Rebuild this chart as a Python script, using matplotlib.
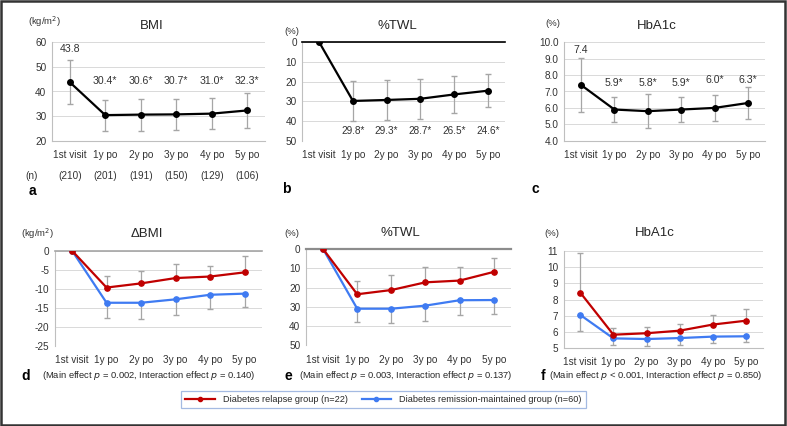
import numpy as np
import matplotlib.pyplot as plt
from matplotlib.patches import Rectangle
from matplotlib.lines import Line2D

plt.rcParams['font.family'] = ['Liberation Sans', 'DejaVu Sans']

categories = ['1st visit', '1y po', '2y po', '3y po', '4y po', '5y po']
n_counts = [210, 201, 191, 150, 129, 106]

# panel a-c : whole cohort
bmi_mean = [43.8, 30.4, 30.6, 30.7, 31.0, 32.3]
bmi_sd = [9.0, 6.3, 6.5, 6.4, 6.2, 7.2]
twl_mean = [0, 29.8, 29.3, 28.7, 26.5, 24.6]
twl_sd = [0, 10.0, 10.3, 10.2, 9.2, 8.4]
hba_mean = [7.4, 5.9, 5.8, 5.9, 6.0, 6.3]
hba_sd = [1.65, 0.78, 1.05, 0.74, 0.8, 0.95]

# panel d-f : relapse vs remission-maintained
dbmi_rel = [0, -9.7, -8.6, -7.2, -6.8, -5.7]
dbmi_rel_sd = [0, 3.1, 3.3, 3.6, 2.7, 4.4]
dbmi_rem = [0, -13.7, -13.7, -12.8, -11.6, -11.3]
dbmi_rem_sd = [0, 4.1, 4.4, 4.0, 3.7, 3.4]
twl_rel = [0, 23.5, 21.3, 17.3, 16.4, 11.9]
twl_rel_sd = [0, 7.1, 7.8, 7.8, 7.2, 7.4]
twl_rem = [0, 31.0, 31.0, 29.4, 26.6, 26.5]
twl_rem_sd = [0, 7.1, 7.6, 7.8, 7.5, 7.4]
hba_rel = [8.43, 5.81, 5.9, 6.06, 6.44, 6.68]
hba_rel_sd = [2.45, 0.4, 0.37, 0.41, 0.57, 0.71]
hba_rem = [7.04, 5.58, 5.54, 5.6, 5.69, 5.71]
hba_rem_sd = [1.02, 0.43, 0.44, 0.43, 0.42, 0.38]

W, H = 787, 426
RED = '#C00000'
BLUE = '#3F7BF2'
ERR = '#A6A6A6'
GRID = '#D9D9D9'
TICK_FS = 7.2

fig = plt.figure(figsize=(W / 100, H / 100), dpi=100)


def px_axes(left, right, top, bottom):
    return fig.add_axes([left / W, 1 - bottom / H, (right - left) / W, (bottom - top) / H])


def ftext(x, y, s, **kw):
    fig.text(x / W, 1 - y / H, s, **kw)


def style(ax, ylim, yticks, fmt='{:g}', base_color='#BFBFBF', base_lw=0.8, base_at='bottom'):
    x = np.arange(len(categories))
    ax.set_xlim(-0.5, len(categories) - 0.5)
    ax.set_ylim(*ylim)
    ax.set_yticks(yticks)
    ax.set_yticklabels([fmt.format(t) for t in yticks], fontsize=TICK_FS, color='#333333')
    ax.set_xticks(x)
    ax.set_xticklabels(categories, fontsize=TICK_FS, color='#333333')
    ax.tick_params(axis='both', length=0)
    ax.tick_params(axis='x', pad=7)
    ax.tick_params(axis='y', pad=4)
    ax.grid(axis='y', color=GRID, lw=0.7)
    ax.set_axisbelow(True)
    for s in ['top', 'right', 'bottom']:
        ax.spines[s].set_visible(False)
    ax.spines['left'].set_color('#BFBFBF')
    ax.spines['left'].set_linewidth(0.8)
    ax.spines[base_at].set_visible(True)
    ax.spines[base_at].set_color(base_color)
    ax.spines[base_at].set_linewidth(base_lw)
    ax.patch.set_alpha(0)


x = np.arange(len(categories))

# ---- a : BMI
ax = px_axes(52, 265, 42.3, 140.7)
style(ax, (20, 60), [20, 30, 40, 50, 60])
ax.errorbar(x, bmi_mean, yerr=bmi_sd, fmt='none', ecolor=ERR, elinewidth=0.9, capsize=2.5, zorder=2)
ax.plot(x, bmi_mean, color='black', lw=1.6, marker='o', ms=4, zorder=3)
for i, v in enumerate(bmi_mean):
    lab = f'{v:.1f}' + ('*' if i > 0 else '')
    ax.text(i, 57.3 if i == 0 else 44.4, lab, ha='center', va='center', fontsize=7.6, color='#333333')
ftext(32, 176, '(n)', fontsize=TICK_FS, color='#333333', ha='center', va='center')
for i, n in enumerate(n_counts):
    xp = 52 + (i + 0.5) * (265 - 52) / 6
    ftext(xp, 176, f'({n})', fontsize=TICK_FS, color='#333333', ha='center', va='center')
ftext(28, 22, '(kg/m$^2$)', fontsize=6.8, color='#333333', ha='left', va='center')
ftext(152, 26, 'BMI', fontsize=9.5, color='#262626', ha='center', va='center')
ftext(32, 191, 'a', fontsize=10, fontweight='bold', ha='center', va='center')

# ---- b : %TWL
ax = px_axes(302.4, 504.6, 42.3, 140.7)
style(ax, (50, 0), [0, 10, 20, 30, 40, 50], base_color='black', base_lw=1.2, base_at='top')
ax.errorbar(x[1:], twl_mean[1:], yerr=twl_sd[1:], fmt='none', ecolor=ERR, elinewidth=0.9, capsize=2.5, zorder=2)
ax.plot(x, twl_mean, color='black', lw=1.6, marker='o', ms=4, zorder=3)
for i, v in enumerate(twl_mean):
    if i > 0:
        ax.text(i, 45.1, f'{v:.1f}*', ha='center', va='center', fontsize=7.2, color='#333333')
ftext(292, 32, '(%)', fontsize=6.8, color='#333333', ha='center', va='center')
ftext(397, 26, '%TWL', fontsize=9.5, color='#262626', ha='center', va='center')
ftext(286, 189, 'b', fontsize=10, fontweight='bold', ha='center', va='center')

# ---- c : HbA1c
ax = px_axes(564.3, 764.7, 42.3, 140.7)
style(ax, (4, 10), [4, 5, 6, 7, 8, 9, 10], fmt='{:.1f}')
ax.errorbar(x, hba_mean, yerr=hba_sd, fmt='none', ecolor=ERR, elinewidth=0.9, capsize=2.5, zorder=2)
ax.plot(x, hba_mean, color='black', lw=1.6, marker='o', ms=4, zorder=3)
for i, v in enumerate(hba_mean):
    if i == 0:
        ax.text(i, 9.53, f'{v:.1f}', ha='center', va='center', fontsize=7.6, color='#333333')
    else:
        ax.text(i, 7.54 if v < 6 else 7.7, f'{v:.1f}*', ha='center', va='center', fontsize=7.6, color='#333333')
ftext(553, 24, '(%)', fontsize=6.8, color='#333333', ha='center', va='center')
ftext(657, 26, 'HbA1c', fontsize=9.5, color='#262626', ha='center', va='center')
ftext(535, 189, 'c', fontsize=10, fontweight='bold', ha='center', va='center')


def two_groups(ax, rel, rel_sd, rem, rem_sd, rel_up_is_plus=True):
    rel_sd = np.array(rel_sd)
    rem_sd = np.array(rem_sd)
    z = np.zeros_like(rel_sd)
    if rel_up_is_plus:
        rel_err = [z, rel_sd]
        rem_err = [rem_sd, z]
    else:
        rel_err = [rel_sd, z]
        rem_err = [z, rem_sd]
    ax.errorbar(x, rel, yerr=rel_err, fmt='none', ecolor=ERR, elinewidth=0.9, capsize=2.5, zorder=2)
    ax.errorbar(x, rem, yerr=rem_err, fmt='none', ecolor=ERR, elinewidth=0.9, capsize=2.5, zorder=2)
    ax.plot(x, rem, color=BLUE, lw=1.6, marker='o', ms=3.8, zorder=3)
    ax.plot(x, rel, color=RED, lw=1.6, marker='o', ms=3.8, zorder=4)


# ---- d : delta BMI
ax = px_axes(54.8, 261.8, 250.7, 345.7)
style(ax, (-25, 0), [-25, -20, -15, -10, -5, 0], base_color='#A6A6A6', base_lw=1.2, base_at='top')
two_groups(ax, dbmi_rel, dbmi_rel_sd, dbmi_rem, dbmi_rem_sd, True)
ftext(21, 234, '(kg/m$^2$)', fontsize=6.8, color='#333333', ha='left', va='center')
ftext(147, 234, 'ΔBMI', fontsize=9.5, color='#262626', ha='center', va='center')

# ---- e : %TWL
ax = px_axes(306, 510.8, 249, 345.3)
style(ax, (50, 0), [0, 10, 20, 30, 40, 50], base_color='#8C8C8C', base_lw=1.6, base_at='top')
two_groups(ax, twl_rel, twl_rel_sd, twl_rem, twl_rem_sd, False)
ftext(292, 233, '(%)', fontsize=6.8, color='#333333', ha='center', va='center')
ftext(400, 233, '%TWL', fontsize=9.5, color='#262626', ha='center', va='center')

# ---- f : HbA1c
ax = px_axes(563.7, 762.5, 251.3, 347.7)
style(ax, (5, 11), [5, 6, 7, 8, 9, 10, 11])
two_groups(ax, hba_rel, hba_rel_sd, hba_rem, hba_rem_sd, True)
ftext(552, 233, '(%)', fontsize=6.8, color='#333333', ha='center', va='center')
ftext(655, 233, 'HbA1c', fontsize=9.5, color='#262626', ha='center', va='center')

# footnotes
notes = [
    (26, 42, 'd', '0.002', '= 0.140'),
    (288, 299, 'e', '0.003', '= 0.137'),
    (543, 549, 'f', '< 0.001', '= 0.850'),
]
for lx, tx, letter, p_main, p_int in notes:
    ftext(lx, 376, letter, fontsize=10, fontweight='bold', ha='center', va='center')
    main = '= ' + p_main if not p_main.startswith('<') else p_main
    ftext(tx, 376, f'(Main effect $p$ {main}, Interaction effect $p$ {p_int})',
          fontsize=6.75, color='#262626', ha='left', va='center')

# legend
handles = [
    Line2D([], [], color=RED, lw=1.6, marker='o', ms=3),
    Line2D([], [], color=BLUE, lw=1.6, marker='o', ms=3),
]
labels = ['Diabetes relapse group (n=22)', 'Diabetes remission-maintained group (n=60)']
leg = fig.legend(handles, labels, ncol=2, loc='center', bbox_to_anchor=(383.5 / W, 1 - 399.5 / H),
                 fontsize=6.6, frameon=True, fancybox=False, handlelength=3.2, columnspacing=1.5,
                 borderpad=0.45, handletextpad=0.9, borderaxespad=0)
leg.get_frame().set_edgecolor('#8EA9DB')
leg.get_frame().set_linewidth(0.9)
for t in leg.get_texts():
    t.set_color('#262626')

# outer frame
fig.patches.append(Rectangle((0.001, 0.002), 0.996, 0.995, transform=fig.transFigure,
                             fill=False, edgecolor='#333333', lw=1.8))

fig.savefig('out.png', dpi=100)
